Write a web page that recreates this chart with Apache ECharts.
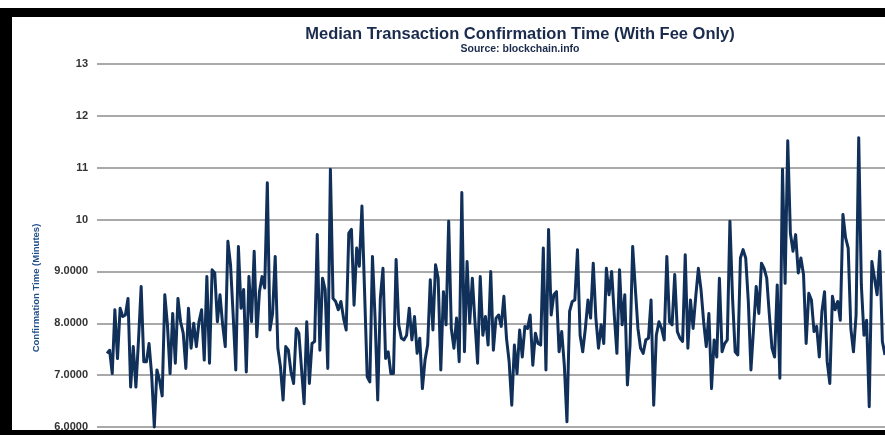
<!DOCTYPE html>
<html>
<head>
<meta charset="utf-8">
<script src="https://cdn.jsdelivr.net/npm/echarts@6/dist/echarts.min.js"></script>
<style>
html,body{margin:0;padding:0;background:#fff;}
#chart{width:885px;height:435px;}
</style>
</head>
<body>
<div id="chart"></div>
<script>
const titleText = 'Median Transaction Confirmation Time (With Fee Only)';
const subtitleText = 'Source: blockchain.info';
const yAxisName = 'Confirmation Time (Minutes)';
const yTicks = [6, 7, 8, 9, 10, 11, 12, 13];

const seg1 = [7.42, 7.48, 7.03, 8.26, 7.32, 8.29, 8.13, 8.16, 8.48, 6.77, 7.55, 6.77, 7.68, 8.71, 7.26, 7.26, 7.61, 7.0, 6.0, 7.1, 6.9, 6.6, 8.55, 7.97, 7.03, 8.19, 7.23, 8.48, 8.03, 7.81, 7.13, 8.29, 7.52, 8.0, 7.55, 8.03, 8.26, 7.29, 8.9, 7.23, 9.03, 8.97, 8.03, 8.55, 7.97, 7.55, 9.58];
const seg2 = [9.13, 8.16, 7.1, 9.48, 8.29, 8.65, 7.06, 8.9, 8.03, 9.39, 7.74, 8.61, 8.9, 8.68, 10.71, 7.87, 8.19, 9.29, 7.52, 7.16, 6.52, 7.55, 7.48, 7.06, 6.84, 7.9, 7.81, 7.13, 6.45, 8.03, 6.84, 7.61, 7.65, 9.71, 7.48, 8.87, 8.65, 7.13, 10.97, 8.48, 8.42, 8.26, 8.42, 8.1, 7.87, 9.74, 9.81, 8.35];
const seg3 = [9.45, 9.1, 10.26, 8.61, 6.97, 6.87, 9.29, 8.1, 6.52, 8.48, 9.06, 7.32, 7.45, 7.03, 7.03, 9.23, 7.97, 7.71, 7.68, 7.77, 8.29, 7.68, 8.13, 7.42, 7.71, 6.74, 7.29, 7.58, 8.84, 7.87, 9.13, 8.87, 7.1, 8.61, 7.97, 9.97, 7.9, 7.52, 8.1, 7.26, 10.52, 7.45, 9.19, 8.0, 8.87, 8.03, 7.23, 8.9, 7.77, 8.13, 7.58];
const seg4 = [9.0, 7.48, 8.1, 8.16, 7.94, 8.52, 7.71, 7.26, 6.42, 7.58, 7.03, 7.87, 7.35, 7.94, 7.9, 8.16, 7.19, 7.81, 7.61, 7.58, 9.45, 7.1, 9.81, 8.16, 8.55, 8.61, 7.45, 7.84, 7.19, 6.1, 8.23, 8.42, 8.45, 9.42, 7.77, 7.45, 7.9, 8.45, 8.1, 9.16, 8.1, 7.52, 7.97, 7.61, 9.06, 8.55, 9.0, 8.16, 7.42];
const seg5 = [9.03, 7.97, 8.55, 6.81, 7.58, 9.48, 8.68, 7.9, 7.52, 7.42, 7.68, 7.71, 8.45, 6.42, 7.77, 8.03, 7.9, 7.68, 9.29, 8.03, 7.97, 8.94, 7.84, 7.71, 7.65, 9.32, 7.52, 8.45, 7.9, 8.52, 9.06, 8.65, 8.03, 7.55, 8.19, 6.74, 7.68, 7.35, 8.87, 7.45, 7.61, 7.68, 9.97, 8.48, 7.45, 7.39, 9.26, 9.42, 9.26, 8.42, 7.1];
const seg6 = [7.9, 8.71, 8.19, 9.16, 9.06, 8.87, 8.16, 7.52, 7.35, 8.74, 6.94, 10.97, 8.77, 11.52, 9.74, 9.39, 9.71, 8.97, 9.26, 8.94, 7.61, 8.58, 8.45, 7.84, 7.94, 7.35, 8.23, 8.61, 7.26, 6.84, 8.52, 8.26, 8.42, 8.06, 10.1, 9.65, 9.45, 7.9, 7.45, 8.16, 11.58, 8.74, 7.77, 8.06, 6.39, 9.19, 8.87, 8.55, 9.39, 7.65, 7.39];

const values = [].concat(seg1, seg2, seg3, seg4, seg5, seg6);
const points = values.map((v, i) => [i, v]);

const chart = echarts.init(document.getElementById('chart'), null, {renderer: 'canvas'});
chart.setOption({
  backgroundColor: '#ffffff',
  animation: false,
  grid: {left: 97, right: 0, top: 64, bottom: 8, containLabel: false},
  xAxis: {
    type: 'value',
    min: -3.8,
    max: values.length - 1,
    show: false
  },
  yAxis: {
    type: 'value',
    min: 6, max: 13, interval: 1,
    axisLine: {show: false},
    axisTick: {show: false},
    axisLabel: {
      margin: 9,
      color: '#333333',
      fontFamily: 'Liberation Sans',
      fontWeight: 'bold',
      fontSize: 11,
      formatter: v => (v >= 10 ? String(v) : v.toFixed(4))
    },
    splitLine: {lineStyle: {color: '#8c8c8c', width: 1.5}}
  },
  series: [{
    type: 'line',
    data: points,
    showSymbol: false,
    clip: false,
    lineStyle: {color: '#10305a', width: 3, join: 'round'}
  }],
  graphic: [
    {type: 'rect', shape: {x: 0, y: 8, width: 885, height: 9}, style: {fill: '#000'}, z: 20},
    {type: 'rect', shape: {x: 0, y: 8, width: 12, height: 427}, style: {fill: '#000'}, z: 20},
    {type: 'rect', shape: {x: 0, y: 430, width: 885, height: 5}, style: {fill: '#000'}, z: 20},
    {type: 'text', z: 10, x: 520, y: 34,
     style: {text: titleText, fill: '#1b2b4d', font: 'bold 16.5px "Liberation Sans"', textAlign: 'center', textVerticalAlign: 'middle'}},
    {type: 'text', z: 10, x: 520, y: 49,
     style: {text: subtitleText, fill: '#1b2b4d', font: 'bold 10.5px "Liberation Sans"', textAlign: 'center', textVerticalAlign: 'middle'}},
    {type: 'text', z: 10, x: 36, y: 288, rotation: Math.PI / 2,
     style: {text: yAxisName, fill: '#1f4f8a', font: 'bold 9.5px "Liberation Sans"', textAlign: 'center', textVerticalAlign: 'middle'}}
  ]
});
</script>
</body>
</html>
